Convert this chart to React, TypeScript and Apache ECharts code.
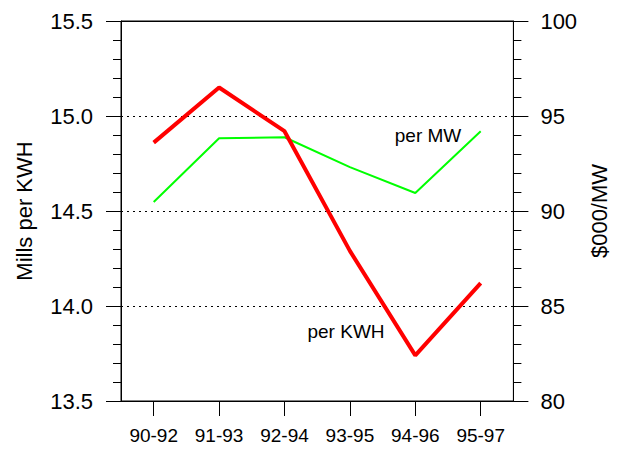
import React, { useEffect, useRef } from "react";
import * as echarts from "echarts";

const categories = ["90-92", "91-93", "92-94", "93-95", "94-96", "95-97"];
const perKWH = [14.86, 15.15, 14.92, 14.29, 13.74, 14.12];
const perMW = [90.47, 93.83, 93.88, 92.31, 90.95, 94.2];
const leftTicks = { min: 13.5, max: 15.5, interval: 0.5 };
const rightTicks = { min: 80, max: 100, interval: 5 };

const FONT = "Liberation Sans, Arial, sans-serif";

export default function App() {
  const ref = useRef<HTMLDivElement>(null);
  useEffect(() => {
    if (!ref.current) return;
    const chart = echarts.init(ref.current, null, { renderer: "svg" });
    const axisLine = { show: true, onZero: false, lineStyle: { color: "#000", width: 1 } };
    chart.setOption({
      animation: false,
      backgroundColor: "#fff",
      textStyle: { fontFamily: FONT },
      grid: {
        left: 121,
        right: 103,
        top: 21,
        bottom: 48,
        show: true,
        borderColor: "#000",
        borderWidth: 1,
        backgroundColor: "transparent",
      },
      xAxis: [
        {
          type: "category",
          data: categories,
          position: "bottom",
          boundaryGap: true,
          axisLine,
          axisTick: { show: true, alignWithLabel: true, length: 15, lineStyle: { color: "#000" } },
          axisLabel: { color: "#000", fontSize: 19, margin: 25, fontFamily: FONT },
          splitLine: { show: false },
        },
        {
          type: "category",
          data: categories,
          position: "top",
          boundaryGap: true,
          axisLine,
          axisTick: { show: false },
          axisLabel: { show: false },
          splitLine: { show: false },
        },
      ],
      yAxis: [
        {
          type: "value",
          position: "left",
          min: leftTicks.min,
          max: leftTicks.max,
          interval: leftTicks.interval,
          name: "Mills per KWH",
          nameLocation: "middle",
          nameRotate: 90,
          nameGap: 86,
          nameTextStyle: { color: "#000", fontSize: 22, fontFamily: FONT },
          axisLine,
          axisTick: { show: true, length: 15, lineStyle: { color: "#000" } },
          minorTick: { show: true, splitNumber: 5, length: 8, lineStyle: { color: "#000" } },
          axisLabel: {
            color: "#000",
            fontSize: 22,
            margin: 28,
            fontFamily: FONT,
            formatter: (v: number) => v.toFixed(1),
          },
          splitLine: {
            show: true,
            showMinLine: false,
            showMaxLine: false,
            lineStyle: { color: "#000", type: [2, 4], width: 1 },
          },
        },
        {
          type: "value",
          position: "right",
          min: rightTicks.min,
          max: rightTicks.max,
          interval: rightTicks.interval,
          name: "$000/MW",
          nameLocation: "middle",
          nameRotate: 90,
          nameGap: 68,
          nameTextStyle: { color: "#000", fontSize: 22, fontFamily: FONT },
          axisLine,
          axisTick: { show: true, length: 15, lineStyle: { color: "#000" } },
          minorTick: { show: true, splitNumber: 5, length: 8, lineStyle: { color: "#000" } },
          axisLabel: { color: "#000", fontSize: 22, margin: 27, fontFamily: FONT },
          splitLine: { show: false },
        },
      ],
      series: [
        {
          name: "per MW",
          type: "line",
          xAxisIndex: 1,
          yAxisIndex: 1,
          data: perMW,
          symbol: "none",
          lineStyle: { color: "#00ff00", width: 2 },
          itemStyle: { color: "#00ff00" },
        },
        {
          name: "per KWH",
          type: "line",
          xAxisIndex: 0,
          yAxisIndex: 0,
          data: perKWH,
          symbol: "none",
          lineStyle: { color: "#ff0000", width: 4 },
          itemStyle: { color: "#ff0000" },
        },
      ],
      graphic: [
        {
          type: "text",
          x: 428,
          y: 135,
          style: {
            text: "per MW",
            fill: "#000",
            fontSize: 19,
            fontFamily: FONT,
            align: "center",
            verticalAlign: "middle",
          },
        },
        {
          type: "text",
          x: 346,
          y: 331,
          style: {
            text: "per KWH",
            fill: "#000",
            fontSize: 19,
            fontFamily: FONT,
            align: "center",
            verticalAlign: "middle",
          },
        },
      ],
    });
    return () => chart.dispose();
  }, []);
  return (
    <div
      ref={ref}
      style={{ position: "absolute", left: 0, top: 0, width: 618, height: 449 }}
    />
  );
}
